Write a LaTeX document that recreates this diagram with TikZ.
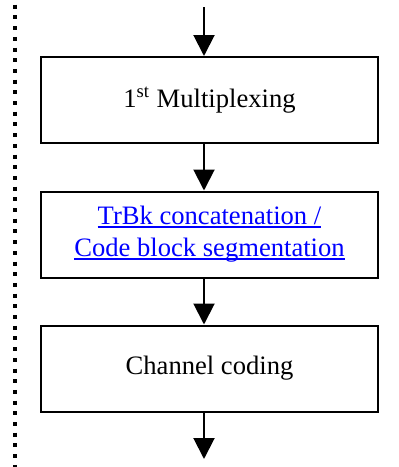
\documentclass[tikz,border=0pt]{standalone}
\usepackage{fontspec}
\setmainfont{Liberation Serif}
\usepackage{tikz}
\usetikzlibrary{arrows.meta}
\usetikzlibrary{positioning}
\usetikzlibrary{calc}
\tikzstyle{stage}=[rectangle,draw=black,line width=1pt,minimum width=168.5pt,minimum height=43pt,inner sep=0pt,align=center,font=\fontsize{13.3}{16}\selectfont]
\tikzstyle{flow} = [draw,line width=1pt,-{Triangle[width=10.5pt,length=10.5pt]}]
\tikzstyle{boundary} = [draw=black,line width=2.3pt,line cap=butt,dash pattern=on 2pt off 3.35pt]
\newsavebox{\linkbox}
\newcommand{\linked}[1]{\sbox{\linkbox}{\color{blue}#1}\textcolor{blue}{\rlap{\rule[-1.5pt]{\wd\linkbox}{0.7pt}}\usebox{\linkbox}}}

\begin{document}
\begin{tikzpicture}[x=0.5pt,y=-0.5pt]
    \useasboundingbox (0,0) rectangle (399,467);

    \foreach \pos/\name/\label in {{(209.5,100)/mux/{1\textsuperscript{st} Multiplexing}},
        {(209.5,234.5)/seg/{\linked{TrBk concatenation /}\\\linked{Code block segmentation}}},
        {(209.5,368.5)/chcod/{Channel coding}}}
        \node[stage] (\name) at \pos {\label};

    \coordinate (top) at (204,7);
    \coordinate (bottom) at (204,459);

    % connect the stages, arrows sit a little left of the box centre
    \path[flow] (top) -- ([xshift=-2.75pt]mux.north);
    \foreach \source/ \dest in {mux/seg, seg/chcod}
        \path[flow] ([xshift=-2.75pt]\source.south) -- ([xshift=-2.75pt]\dest.north);
    \path[flow] ([xshift=-2.75pt]chcod.south) -- (bottom);

    % dotted boundary on the left
    \coordinate (edgetop) at (15,4.7);
    \coordinate (edgebottom) at (15,467);
    \path[boundary] (edgetop) -- (edgebottom);

\end{tikzpicture}
\end{document}
